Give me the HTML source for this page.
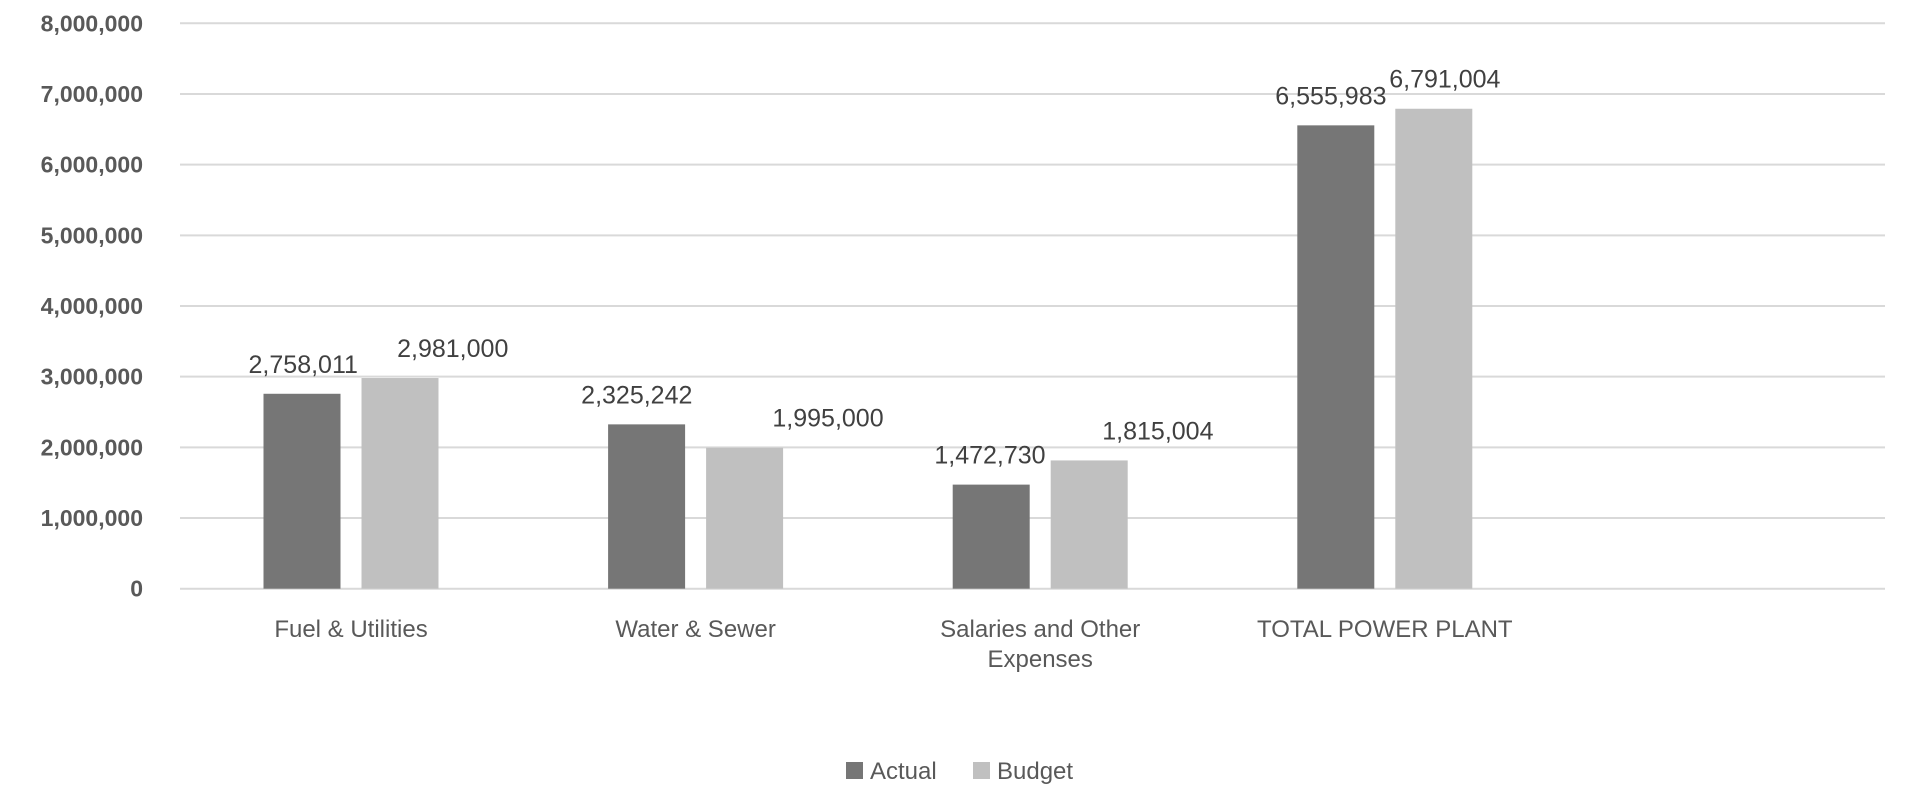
<!DOCTYPE html>
<html><head><meta charset="utf-8"><style>
html,body{margin:0;padding:0;background:#fff;}
svg{display:block;font-family:"Liberation Sans",sans-serif;}
</style></head><body>
<svg id="chart" width="1923" height="798"></svg>
<script>
const categories=[["Fuel & Utilities"],["Water & Sewer"],["Salaries and Other","Expenses"],["TOTAL POWER PLANT"]];
const actualValues=[2758011,2325242,1472730,6555983];
const budgetValues=[2981000,1995000,1815004,6791004];
const yTicks=[0,1000000,2000000,3000000,4000000,5000000,6000000,7000000,8000000];
const actualLabelShift=[1,-8,-1,-4];
const budgetLabelShift=[43,68,56,9];
const NS="http://www.w3.org/2000/svg";
const svgEl=document.getElementById('chart');
const plotLeft=180,plotRight=1885,plotTop=23.3,plotBottom=588.7,yMax=8000000;
const yScale=v=>plotBottom-(v/yMax)*(plotBottom-plotTop);
const slotW=344.6;
const cx=i=>plotLeft+171+slotW*i;
const barW=77,gap=21;
function mk(t,a){const e=document.createElementNS(NS,t);for(const k in a)e.setAttribute(k,a[k]);svgEl.appendChild(e);return e;}
const fmt=v=>v.toLocaleString('en-US');
yTicks.forEach((t,i)=>{
  const l=mk('line',{x1:plotLeft,x2:plotRight,y1:yScale(t),y2:yScale(t),stroke:'#d9d9d9','stroke-width':2});
  
  
  const tx=mk('text',{x:143,y:yScale(t)+8,'text-anchor':'end','font-size':23,'font-weight':'bold',fill:'#595959'});
  tx.textContent=fmt(t);
  
  
});
categories.forEach((c,i)=>{
  const ax=cx(i)-gap/2-barW, bx=cx(i)+gap/2;
  const a=mk('rect',{x:ax,y:yScale(actualValues[i]),width:barW,height:plotBottom-yScale(actualValues[i]),fill:'#767676'});
  
  
  const b=mk('rect',{x:bx,y:yScale(budgetValues[i]),width:barW,height:plotBottom-yScale(budgetValues[i]),fill:'#c0c0c0'});
  
  
  const la=mk('text',{x:ax+barW/2+actualLabelShift[i]*1.2265,y:yScale(actualValues[i])-21,'text-anchor':'middle','font-size':25,fill:'#404040'});
  la.textContent=fmt(actualValues[i]);
  
  
  const lb=mk('text',{x:bx+barW/2+budgetLabelShift[i]*1.2265,y:yScale(budgetValues[i])-21,'text-anchor':'middle','font-size':25,fill:'#404040'});
  lb.textContent=fmt(budgetValues[i]);
  
  
  c.forEach((line,j)=>{
    const t=mk('text',{x:cx(i),y:637+j*30,'text-anchor':'middle','font-size':24,fill:'#595959'});
    t.textContent=line;
    
    
  });
});
const s1=mk('rect',{x:846,y:762,width:17,height:17,fill:'#767676'});


const t1=mk('text',{x:870,y:779,'font-size':24,fill:'#595959'});t1.textContent='Actual';


const s2=mk('rect',{x:973,y:762,width:17,height:17,fill:'#c0c0c0'});


const t2=mk('text',{x:997,y:779,'font-size':24,fill:'#595959'});t2.textContent='Budget';


</script>
</body></html>
